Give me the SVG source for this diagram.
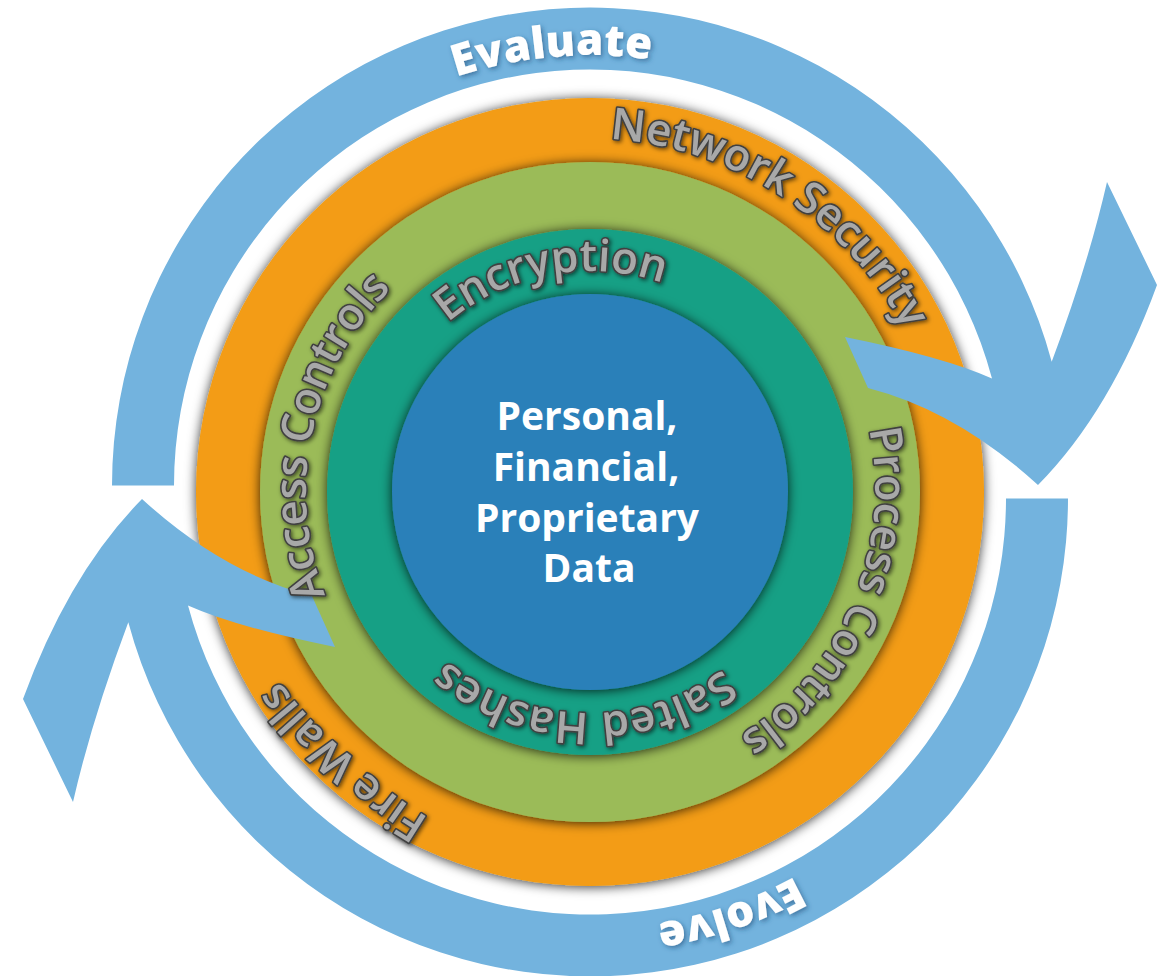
<svg xmlns="http://www.w3.org/2000/svg" width="1172" height="976" viewBox="0 0 1172 976">
<style>
.ring{filter:url(#ringShadow);}
.lbl{font-family:"Open Sans","Noto Sans","DejaVu Sans",sans-serif;font-size:44px;font-weight:600;fill:#A8A8A8;stroke:#404040;stroke-width:3.2px;paint-order:stroke;stroke-linejoin:round;filter:url(#txtShadow);}
.cyc{font-family:"Open Sans","Noto Sans","DejaVu Sans",sans-serif;font-size:44px;font-weight:800;fill:#FFFFFF;filter:url(#cycShadow);}
.core{font-family:"Open Sans","Noto Sans","DejaVu Sans",sans-serif;font-size:39px;font-weight:bold;fill:#FFFFFF;text-anchor:middle;}
.arrow{fill:#73B3DE;}
</style>
<defs>
<filter id="ringShadow" x="-15%" y="-15%" width="130%" height="130%">
<feDropShadow dx="0" dy="1" stdDeviation="6" flood-color="#000" flood-opacity="0.8"/>
</filter>
<filter id="txtShadow" x="-10%" y="-10%" width="120%" height="120%">
<feDropShadow dx="1.5" dy="1.5" stdDeviation="2" flood-color="#000" flood-opacity="0.6"/>
</filter>
<filter id="cycShadow" x="-10%" y="-10%" width="120%" height="120%">
<feDropShadow dx="2" dy="2" stdDeviation="2.5" flood-color="#1F4E79" flood-opacity="0.6"/>
</filter>
<path id="pNet" d="M 398.3 787.2 A 352 352 0 1 1 781.7 196.8 A 352 352 0 1 1 398.3 787.2"/>
<path id="pFire" d="M 830.5 229.5 A 357 357 0 1 1 349.5 754.5 A 357 357 0 1 1 830.5 229.5"/>
<path id="pEnc" d="M 629.9 709.4 A 221 221 0 1 1 550.1 274.6 A 221 221 0 1 1 629.9 709.4"/>
<path id="pSalt" d="M 596.6 271.1 A 221 221 0 1 1 583.4 712.9 A 221 221 0 1 1 596.6 271.1"/>
<path id="pAcc" d="M 867.6 552.0 A 284 284 0 1 1 312.4 432.0 A 284 284 0 1 1 867.6 552.0"/>
<path id="pProc" d="M 328.4 381.5 A 284 284 0 1 1 851.6 602.5 A 284 284 0 1 1 328.4 381.5"/>
<path id="pEval" d="M 627.5 913.9 A 430 430 0 1 1 552.5 57.1 A 430 430 0 1 1 627.5 913.9"/>
<path id="pEvol" d="M 452.1 91.2 A 430 430 0 1 1 727.9 905.8 A 430 430 0 1 1 452.1 91.2"/>
<path id="cycArrow" d="M 112 485.5 A 478 478 0 0 1 1051.7 361.8 Q 1088 265 1107 182 L 1157 285 Q 1111 411 1038 485 Q 957 411 868 388 L 845 337 Q 944 357 992 378.5 A 416 416 0 0 0 174 485.5 Z"/>
</defs>
<rect width="1172" height="976" fill="#FFFFFF"/>

<g id="network-security">
<circle class="ring" cx="590" cy="492" r="394" fill="#F39C12"/>
</g>
<g id="process-controls">
<circle class="ring" cx="590" cy="492" r="330" fill="#9BBB59"/>
</g>
<g id="encryption">
<circle class="ring" cx="590" cy="492" r="263" fill="#16A085"/>
</g>
<g id="data">
<circle class="ring" cx="590" cy="492" r="198" fill="#2980B9"/>
<text class="core" x="587" y="430">Personal,</text>
<text class="core" x="586" y="481">Financial,</text>
<text class="core" x="587" y="532">Proprietary</text>
<text class="core" x="589" y="582">Data</text>
</g>

<g id="connectors">
<use href="#cycArrow" class="arrow"/>
<use href="#cycArrow" class="arrow" transform="rotate(180 590 492)"/>
</g>

<g id="labels">
<text class="lbl"><textPath href="#pNet" startOffset="50%" text-anchor="middle">Network Security</textPath></text>
<text class="lbl"><textPath href="#pFire" startOffset="50%" text-anchor="middle">Fire Walls</textPath></text>
<text class="lbl"><textPath href="#pAcc" startOffset="50%" text-anchor="middle">Access Controls</textPath></text>
<text class="lbl"><textPath href="#pProc" startOffset="50%" text-anchor="middle">Process Controls</textPath></text>
<text class="lbl"><textPath href="#pEnc" startOffset="50%" text-anchor="middle">Encryption</textPath></text>
<text class="lbl"><textPath href="#pSalt" startOffset="50%" text-anchor="middle">Salted Hashes</textPath></text>
<text class="cyc"><textPath href="#pEval" startOffset="50%" text-anchor="middle">Evaluate</textPath></text>
<text class="cyc"><textPath href="#pEvol" startOffset="50%" text-anchor="middle">Evolve</textPath></text>
</g>
</svg>
